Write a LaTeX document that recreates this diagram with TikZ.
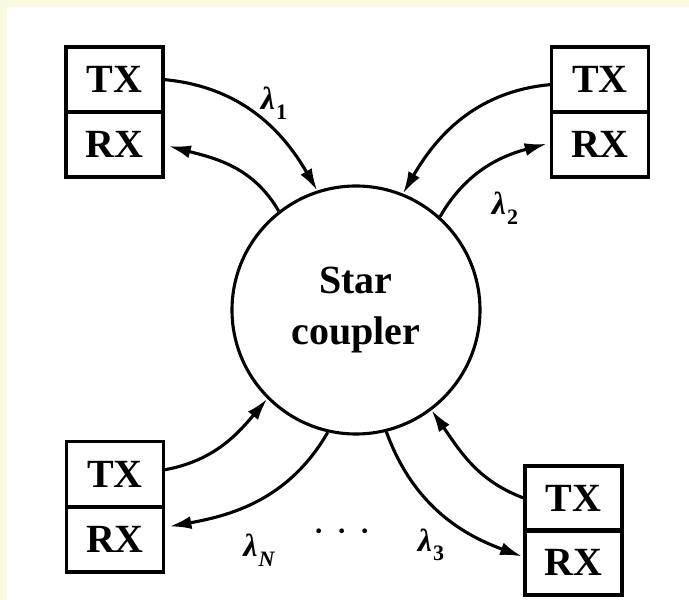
\documentclass[tikz,border=0pt]{standalone}
\usepackage{fontspec}
\setmainfont{Liberation Serif}
\usetikzlibrary{arrows.meta}
\definecolor{bgyellow}{RGB}{250,250,225}
\newcommand{\lamlabel}[1]{{\itshape λ}\kern1pt\raisebox{-0.3em}{\fontsize{22}{24}\selectfont #1}}
\begin{document}
\begin{tikzpicture}[x=1pt,y=1pt,
  trx/.style={draw, line width=3.4pt, minimum width=97pt, minimum height=65pt, inner sep=0pt, outer sep=0pt, font=\bfseries\fontsize{40}{48}\selectfont},
  link/.style={line width=3.1pt, -{Latex[length=22pt,width=13pt]}},
  lam/.style={font=\bfseries\fontsize{32}{36}\selectfont}]
\fill[bgyellow] (0,0) rectangle (689,600);
\fill[white] (7,0) rectangle (689,593);
\useasboundingbox (0,0) rectangle (689,600);
\node[draw, circle, line width=3.1pt, minimum size=248pt, inner sep=0pt, align=center, font=\bfseries\fontsize{40}{51}\selectfont] (sc) at (356,290) {Star\\coupler};
% boxes
\node[trx] (tltx) at (114.5,520.5) {TX};
\node[trx] (tlrx) at (114.5,455.5) {RX};
\node[trx] (trtx) at (600,520.5) {TX};
\node[trx] (trrx) at (600,455.5) {RX};
\node[trx] (bltx) at (115,126) {TX};
\node[trx] (blrx) at (115,60.5) {RX};
\node[trx] (brtx) at (573.5,101.5) {TX};
\node[trx] (brrx) at (573.5,37.5) {RX};
% connectors
\draw[link] (tltx.east) to[out=-5,in=120] (sc.108);
\draw[link, shorten >=6pt] (sc.128.5) to[out=120,in=-15] (tlrx.east);
\draw[link] ([yshift=-5pt]trtx.west) to[out=185,in=60] (sc.68);
\draw[link, shorten >=5pt] (sc.48.7) to[out=60,in=195] ([yshift=2pt]trrx.west);
\draw[link] ([yshift=4pt]bltx.east) to[out=10,in=230] (sc.225.6);
\draw[link, shorten >=6pt] (sc.257) to[out=240,in=10] ([yshift=12pt]blrx.east);
\draw[link] (brtx.west) to[out=160,in=-55] (sc.307);
\draw[link, shorten >=3pt] (sc.284) to[out=-70,in=160] ([yshift=5pt]brrx.west);
% labels
\node[lam] (l1) at (274,497) {\lamlabel{1}};
\node[lam] (l2) at (505,392) {\lamlabel{2}};
\node[lam] (lN) at (259,50) {\lamlabel{\itshape N}};
\node[lam] (l3) at (431,55) {\lamlabel{3}};
\node[font=\fontsize{40}{48}\selectfont] (dots) at (342,63) {· · ·};
\end{tikzpicture}
\end{document}
